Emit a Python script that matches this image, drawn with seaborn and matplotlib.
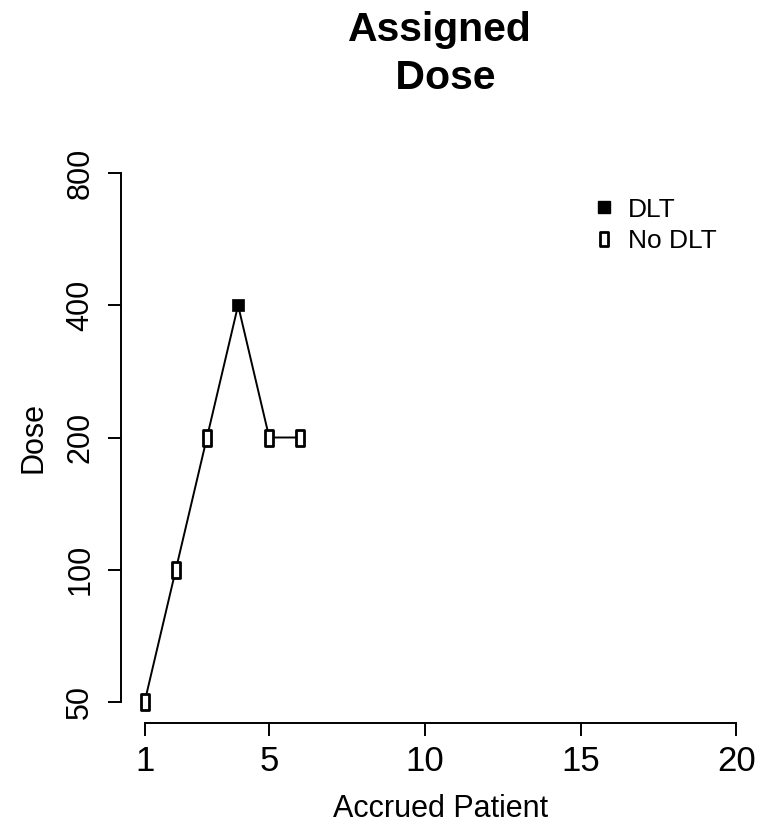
import numpy as np
import pandas as pd
import matplotlib
matplotlib.use("Agg")
import matplotlib.pyplot as plt
import seaborn as sns
from matplotlib.path import Path
from matplotlib.lines import Line2D

sns.set_style("white")
plt.rcParams['font.family'] = ['Liberation Sans', 'DejaVu Sans']
plt.rcParams['text.color'] = 'black'
plt.rcParams['axes.labelcolor'] = 'black'
plt.rcParams['xtick.color'] = 'black'
plt.rcParams['ytick.color'] = 'black'

# Data
patients = [1, 2, 3, 4, 5, 6]
doses = [50, 100, 200, 400, 200, 200]
dlt = ["No DLT", "No DLT", "No DLT", "DLT", "No DLT", "No DLT"]
y_ticks = [50, 100, 200, 400, 800]
x_ticks = [1, 5, 10, 15, 20]

df = pd.DataFrame({"Patient": patients, "Dose": doses, "Outcome": dlt})

W, H = 761, 826
fig = plt.figure(figsize=(W / 100, H / 100), dpi=100)
ax = fig.add_axes([121 / W, 1 - 723 / H, (760 - 121) / W, (723 - 152) / H])

rect = Path([(-0.28, -0.5), (0.28, -0.5), (0.28, 0.5), (-0.28, 0.5), (-0.28, -0.5)],
            [Path.MOVETO, Path.LINETO, Path.LINETO, Path.LINETO, Path.CLOSEPOLY])

sns.lineplot(data=df, x="Patient", y="Dose", color="black", linewidth=1.4,
             ax=ax, sort=False, estimator=None)
nd = df[df.Outcome == "No DLT"]
d = df[df.Outcome == "DLT"]
sns.scatterplot(data=nd, x="Patient", y="Dose", marker=rect, s=11**2,
                facecolor="white", edgecolor="black", linewidth=2, ax=ax, zorder=3)
sns.scatterplot(data=d, x="Patient", y="Dose", marker="s", s=9**2,
                color="black", edgecolor="black", linewidth=0.5, ax=ax, zorder=3)

ax.set_yscale("log")
ax.set_xlim(1 - 0.04 * 19, 20 + 0.04 * 19)
lo, hi = np.log2(50), np.log2(800)
pad = 0.04 * (hi - lo)
ax.set_ylim(2 ** (lo - pad), 2 ** (hi + pad))
ax.set_xticks(x_ticks)
ax.set_xticklabels([str(t) for t in x_ticks])
ax.set_yticks(y_ticks)
ax.set_yticklabels([str(t) for t in y_ticks], rotation=90, va="center")
ax.yaxis.set_minor_locator(matplotlib.ticker.NullLocator())

for s in ["top", "right"]:
    ax.spines[s].set_visible(False)
ax.spines["left"].set_bounds(50, 800)
ax.spines["bottom"].set_bounds(1, 20)
for s in ["left", "bottom"]:
    ax.spines[s].set_linewidth(1.4)
    ax.spines[s].set_color("black")
ax.tick_params(axis="both", direction="out", length=9.5, width=1.4, color="black",
               left=True, bottom=True)
ax.tick_params(axis="x", labelsize=25, pad=6)
ax.tick_params(axis="y", labelsize=22, pad=9)

ax.set_xlabel("Accrued Patient", fontsize=22, labelpad=12)
ax.set_ylabel("Dose", fontsize=22, labelpad=12)

fig.text(440 / W, 1 - 54 / H, "Assigned\n Dose", ha="center", va="center",
         fontsize=29.5, fontweight="bold", linespacing=1.34)

handles = [Line2D([], [], marker="s", color="black", linestyle="none", markersize=9),
           Line2D([], [], marker=rect, markerfacecolor="white", markeredgecolor="black",
                  markeredgewidth=2, linestyle="none", markersize=10)]
ax.legend(handles, ["DLT", "No DLT"], loc="upper left", bbox_to_anchor=(578 / W, 1 - 187 / H),
          bbox_transform=fig.transFigure, frameon=False, fontsize=19,
          handletextpad=0.3, labelspacing=0.3, handlelength=1.2, borderaxespad=0)

fig.savefig("out.png", dpi=100, facecolor="white")
